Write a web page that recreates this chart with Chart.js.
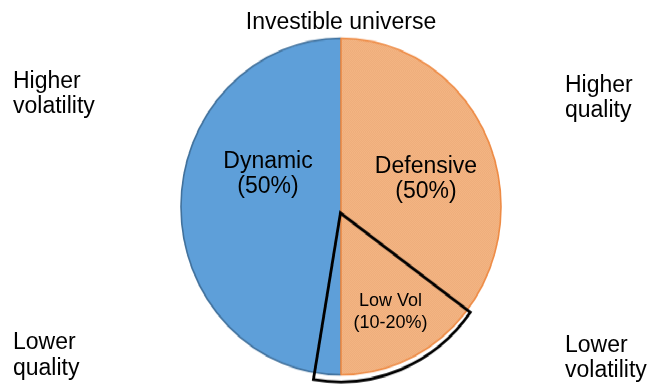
<!DOCTYPE html>
<html>
<head>
<meta charset="utf-8">
<title>Investible universe</title>
<script src="https://cdn.jsdelivr.net/npm/chart.js@4/dist/chart.umd.min.js"></script>
<style>
  html, body { margin: 0; padding: 0; background: #fff; overflow: hidden; }
  #stage { position: relative; width: 652px; height: 387px; font-family: "Liberation Sans", Arial, sans-serif; color: #000; }
  /* the pie is drawn slightly taller than wide */
  #plot { position: absolute; left: 0; top: 0; width: 652px; height: 368px; transform: scaleY(1.05163); transform-origin: 0 0; }
  .layer { position: absolute; left: 0; top: 0; width: 652px; height: 368px; }
  .lbl { position: absolute; white-space: pre; font-size: 23px; line-height: 25.6px; }
  .mid { width: 240px; text-align: center; }
  .small { font-size: 18px; line-height: 22.3px; }
</style>
</head>
<body>
<div id="stage">
  <div id="plot">
    <div class="layer"><canvas id="pie"></canvas></div>
    <div class="layer"><canvas id="wedge"></canvas></div>
  </div>
</div>
<script>
// Universe split
const universeLabels = ['Dynamic', 'Defensive'];
const universeShares = [50, 50];

// Low-volatility slice carved out of the defensive half (shares of the whole universe)
const lowVolParts = ['', 'Low Vol', ''];
const lowVolShares = [35, 17.7, 47.3];
const lowVolRange = [10, 20];

// Text around the pie
const titleText = 'Investible universe';
const cornerTexts = ['Higher\nvolatility', 'Higher\nquality', 'Lower\nquality', 'Lower\nvolatility'];

// Fine cross-hatch fill for the defensive half
function hatchPattern() {
  const tile = document.createElement('canvas');
  tile.width = 2; tile.height = 2;
  const t = tile.getContext('2d');
  t.fillStyle = 'rgb(245,183,134)';
  t.fillRect(0, 0, 2, 2);
  t.fillStyle = 'rgb(238,172,121)';
  t.fillRect(0, 0, 1, 1);
  t.fillRect(1, 1, 1, 1);
  return t.createPattern(tile, 'repeat');
}

new Chart(document.getElementById('pie'), {
  type: 'pie',
  data: {
    labels: universeLabels,
    datasets: [{
      data: universeShares,
      backgroundColor: ['#5E9FD9', hatchPattern()],
      borderColor: ['#41719C', '#EE8B45'],
      borderWidth: 1.6
    }]
  },
  options: {
    responsive: true,
    maintainAspectRatio: false,
    animation: false,
    events: [],
    rotation: 180,
    radius: 160,
    layout: { padding: { left: 181, right: 151, top: 36, bottom: 11 } },
    plugins: { legend: { display: false }, tooltip: { enabled: false } }
  }
});

// Outlined low-vol slice, pulled slightly out of the pie
new Chart(document.getElementById('wedge'), {
  type: 'pie',
  data: {
    labels: lowVolParts,
    datasets: [{
      data: lowVolShares,
      backgroundColor: 'rgba(0,0,0,0)',
      borderColor: ['rgba(0,0,0,0)', '#000000', 'rgba(0,0,0,0)'],
      borderWidth: [0, 2.8, 0],
      borderJoinStyle: 'miter',
      offset: [0, 26, 0]
    }]
  },
  options: {
    responsive: true,
    maintainAspectRatio: false,
    animation: false,
    events: [],
    rotation: 0,
    radius: 160,
    layout: { padding: { left: 178, right: 154, top: 36, bottom: 11 } },
    plugins: { legend: { display: false }, tooltip: { enabled: false } }
  }
});

// Text labels
const stage = document.getElementById('stage');
function addLabel(text, cls, left, top) {
  const d = document.createElement('div');
  d.className = 'lbl ' + cls;
  d.textContent = text;
  d.style.left = left + 'px';
  d.style.top = top + 'px';
  stage.appendChild(d);
}
addLabel(titleText, 'mid', 341 - 120, 9.2);
addLabel(cornerTexts[0], '', 13, 67.5);
addLabel(cornerTexts[1], '', 565, 71.5);
addLabel(cornerTexts[2], '', 13, 329.2);
addLabel(cornerTexts[3], '', 565, 331.9);
addLabel(universeLabels[0] + '\n(' + universeShares[0] + '%)', 'mid', 268 - 120, 147.5);
addLabel(universeLabels[1] + '\n(' + universeShares[1] + '%)', 'mid', 426 - 120, 152.5);
addLabel(lowVolParts[1] + '\n(' + lowVolRange[0] + '-' + lowVolRange[1] + '%)', 'mid small', 390.5 - 120, 288.6);
</script>
</body>
</html>
